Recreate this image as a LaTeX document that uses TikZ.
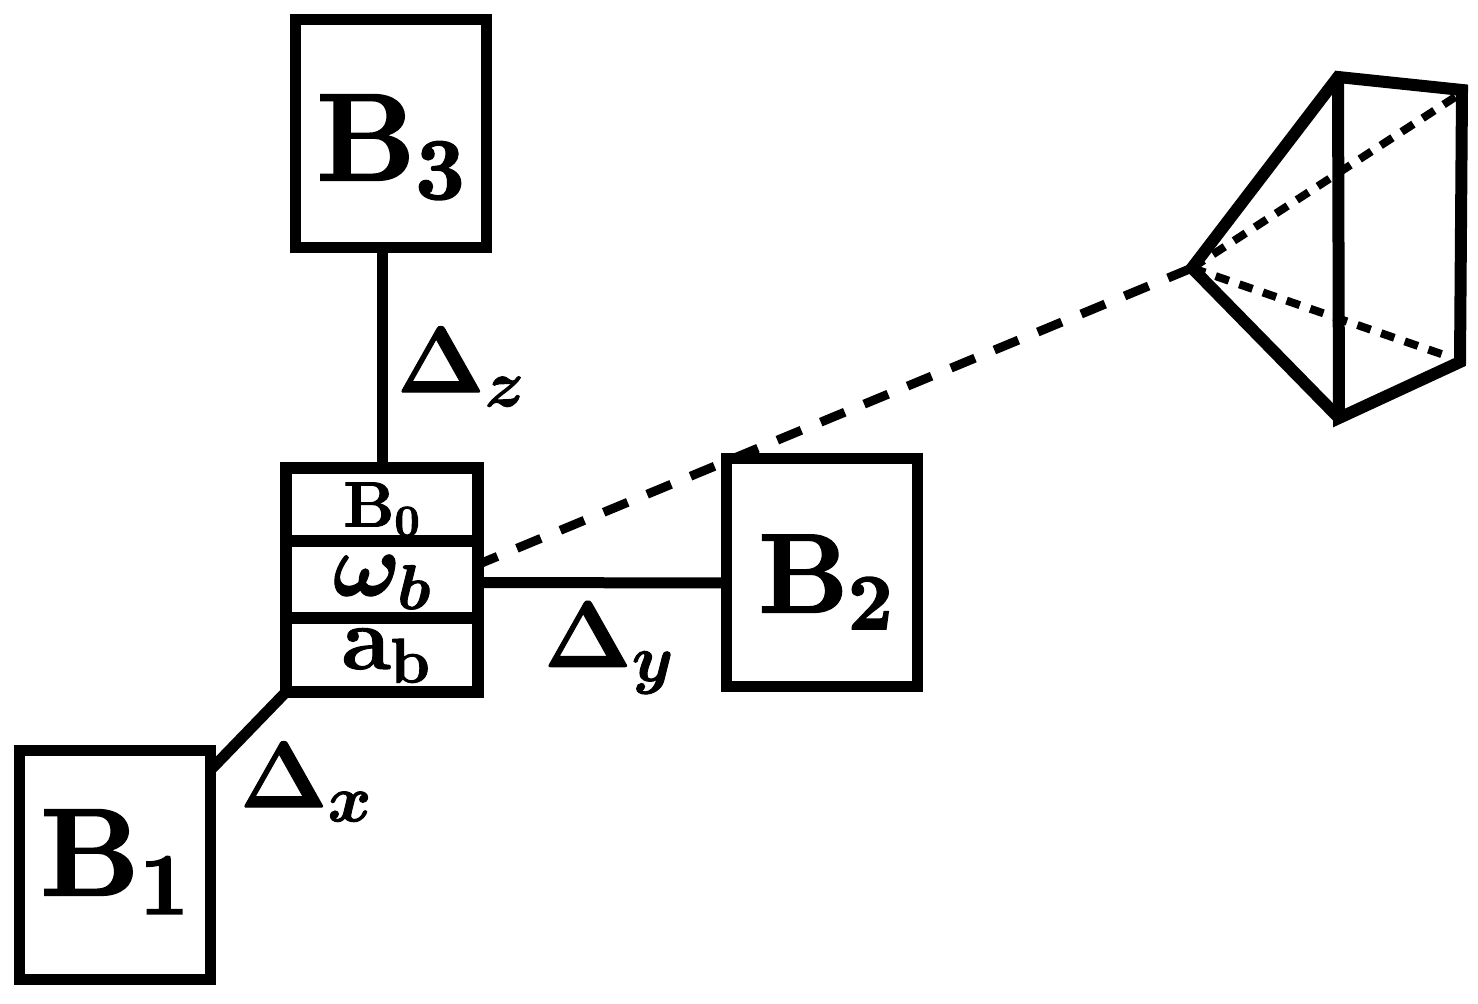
\documentclass[tikz,border=0pt]{standalone}
\usepackage{fix-cm}
\usetikzlibrary{positioning, calc}
\newcommand{\heavy}[2]{\special{pdf:code 2 Tr #1 w}#2\special{pdf:code 0 Tr 0 w}}
\newcommand{\boldsym}[1]{\mbox{\heavy{0.5}{\boldmath$#1$}}}
\newcommand{\boxlabel}[2]{\raisebox{#1}[0pt][0pt]{\heavy{1.1}{$\mathbf{B}_{\mathbf{#2}}$}}}
\tikzset{
    bigbox/.style={rectangle, draw, fill=white, line width=5.5pt, outer sep=0pt, inner sep=0pt,
        minimum width=95.5pt, minimum height=114pt, font=\fontsize{62}{62}\selectfont},
    rowbox/.style={rectangle, draw, fill=white, line width=6pt, outer sep=0pt, inner sep=0pt,
        minimum width=96pt, font=\fontsize{32}{32}\selectfont},
    link/.style={line width=5.5pt},
    deltalabel/.style={font=\fontsize{47}{47}\selectfont, inner sep=0pt},
    sightline/.style={line width=4.5pt, dash pattern=on 13pt off 10.5pt},
    rayline/.style={line width=4pt, dash pattern=on 7pt off 5.5pt},
    frustum/.style={line width=6pt, miter limit=4}
}

\begin{document}
\begin{tikzpicture}[x=0.5pt, y=-0.5pt]
    \useasboundingbox (0,0) rectangle (1478,1004);

    % camera corners
    \coordinate (apex) at (1192,268);
    \coordinate (camtop) at (1338,77);
    \coordinate (camright) at (1462,90);
    \coordinate (camlow) at (1460,362);
    \coordinate (cambottom) at (1339,418);
    \coordinate (rayend) at (1466,90);
    \coordinate (raylow) at (1450,357);

    \node[rowbox, minimum height=36.5pt] (b0) at (382,504.5) {\raisebox{-11pt}[0pt][0pt]{\heavy{0.5}{$\mathbf{B}_{\mathbf{0}}$}}};
    \node[rowbox, minimum height=38.5pt, below=0pt of b0, font=\fontsize{45}{45}\selectfont] (omega) {\raisebox{-8pt}[0pt][0pt]{\boldsym{\omega_b}}};
    \node[rowbox, minimum height=37pt, below=0pt of omega, font=\fontsize{45}{45}\selectfont] (accel) {\hspace*{4pt}\raisebox{-7pt}[0pt][0pt]{\heavy{0.5}{$\mathbf{a}_{\mathbf{b}}$}}};

    \draw[sightline] (apex) -- ($(omega.east)+(0,-15)$);

    \node[bigbox] (b3) at (391,134) {\boxlabel{-23pt}{3}};
    \node[bigbox, font=\fontsize{56}{56}\selectfont] (b2) at (822,573) {\hspace*{4pt}\boxlabel{-19.5pt}{2}};
    \node[bigbox] (b1) at (115,865) {\boxlabel{-15pt}{1}};

    \draw[link] ($(b3.south)+(-9,0)$) -- (b0.north);
    \draw[link] ($(b2.west)+(0,10)$) -- ($(omega.east)+(0,3)$);
    \draw[link] (accel.south west) -- ($(b1.north east)+(0,19)$);

    \node[deltalabel] (dz) at (461,367) {\boldsym{\Delta_z}};
    \node[deltalabel] (dy) at (609,648) {\boldsym{\Delta_y}};
    \node[deltalabel] (dx) at (306,782) {\boldsym{\Delta_x}};

    \draw[frustum] (cambottom) -- (apex) -- (camtop) -- (camright) -- (camlow) -- (cambottom) -- (camtop);
    \draw[rayline] (apex) -- (rayend);
    \draw[rayline] (apex) -- (raylow);
\end{tikzpicture}
\end{document}
